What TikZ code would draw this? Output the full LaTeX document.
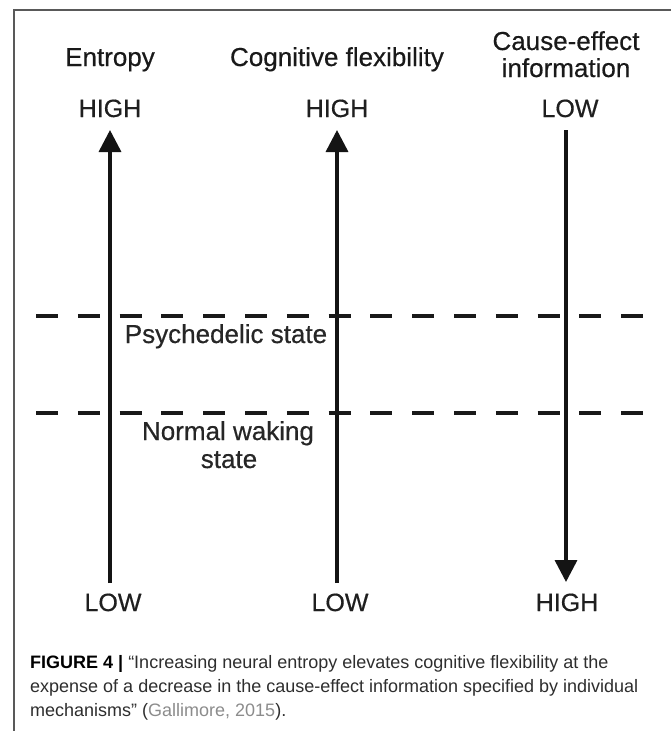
\documentclass[tikz,border=0pt]{standalone}
\usepackage{fontspec}
\setmainfont{Liberation Sans}
\newfontfamily\heavyfont[FakeBold=0.5]{Liberation Sans}
\usetikzlibrary{arrows.meta}
\begin{document}
\begin{tikzpicture}[x=1pt,y=-1pt,
  title/.style={font=\heavyfont\fontsize{26}{30}\selectfont, anchor=base, inner sep=0pt, text=black!90},
  level/.style={font=\heavyfont\fontsize{25}{30}\selectfont, anchor=base, inner sep=0pt, text=black!88},
  statelabel/.style={font=\heavyfont\fontsize{26}{28}\selectfont, anchor=base, inner sep=0pt, text=black!85},
  axis/.style={line width=3.5pt, -{Triangle[length=22pt,width=22pt]}, draw=black!92},
  sep/.style={line width=4pt, dash pattern=on 22pt off 19.8pt, draw=black!90},
  frame/.style={line width=1.2pt, draw=black!65},
  captext/.style={font=\fontsize{18}{24}\selectfont, anchor=base west, inner sep=0pt, text=black!82}
]
\useasboundingbox (0,0) rectangle (671,731);
\fill[white] (0,0) rectangle (671,731);
\draw[frame] (671,10) -- (14,10) -- (14,731);

% column titles
\node[title] (t1) at (110,66) {Entropy};
\node[title] (t2) at (337,66) {Cognitive flexibility};
\node[title] (t3a) at (566,50) {Cause-effect};
\node[title] (t3b) at (566,77) {information};

% levels
\node[level] (h1) at (110,117) {HIGH};
\node[level] (h2) at (337,117) {HIGH};
\node[level] (h3) at (570,117) {LOW};
\node[level] (l1) at (113,611) {LOW};
\node[level] (l2) at (340,611) {LOW};
\node[level] (l3) at (567,611) {HIGH};

% arrow end points
\coordinate (a1s) at (110,583);
\coordinate (a1e) at (110,130);
\coordinate (a2s) at (337,583);
\coordinate (a2e) at (337,130);
\coordinate (a3s) at (566,130);
\coordinate (a3e) at (566,582);
\draw[axis] (a1s) -- (a1e);
\draw[axis] (a2s) -- (a2e);
\draw[axis] (a3s) -- (a3e);

% state separators
\coordinate (d1a) at (36,316);
\coordinate (d1b) at (646,316);
\coordinate (d2a) at (36,413);
\coordinate (d2b) at (646,413);
\draw[sep] (d1a) -- (d1b);
\draw[sep] (d2a) -- (d2b);

\node[statelabel] (ps) at (226,343) {Psychedelic state};
\node[statelabel] (nw) at (228,440) {Normal waking};
\node[statelabel] (st) at (229,468) {state};

% caption
\node[captext] (c1) at (30,668) {\textcolor{black}{\textbf{FIGURE 4 |}} “Increasing neural entropy elevates cognitive flexibility at the};
\node[captext] (c2) at (30,692) {expense of a decrease in the cause-effect information specified by individual};
\node[captext] (c3) at (30,716) {mechanisms” (\textcolor{black!45}{Gallimore, 2015}).};
\end{tikzpicture}
\end{document}
